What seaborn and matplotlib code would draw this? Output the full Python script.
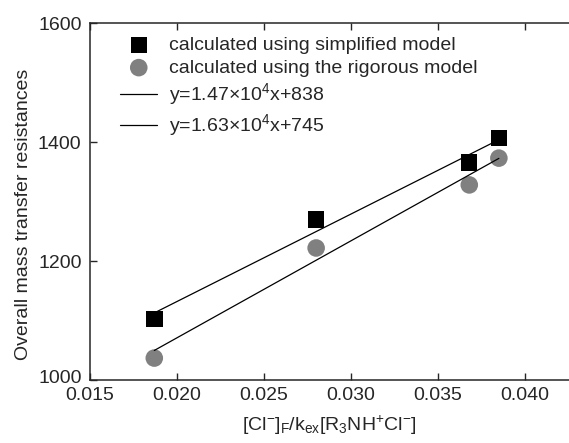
import numpy as np
import pandas as pd
import seaborn as sns
import matplotlib.pyplot as plt
import matplotlib.transforms as mtransforms

# data
x_vals = [0.0187, 0.0280, 0.0368, 0.0385]
simplified = [1103, 1270, 1366, 1407]
rigorous = [1037, 1222, 1328, 1373]

# fitted lines (slope, intercept)
fit_simplified = (1.47e4, 838)
fit_rigorous = (1.63e4, 745)

sns.set_style("ticks")
plt.rcParams['font.family'] = ['Liberation Sans', 'DejaVu Sans']
plt.rcParams['mathtext.fontset'] = 'custom'
plt.rcParams['mathtext.rm'] = 'Liberation Sans'
plt.rcParams['mathtext.it'] = 'Liberation Sans'

df = pd.DataFrame({'x': x_vals, 'simplified': simplified, 'rigorous': rigorous})
xs = np.array([x_vals[0], x_vals[-1]])
lines = pd.DataFrame({'x': xs,
                      'l1': fit_simplified[0] * xs + fit_simplified[1],
                      'l2': fit_rigorous[0] * xs + fit_rigorous[1]})

fig = plt.figure(figsize=(5.69, 4.43), dpi=100)
ax = fig.add_axes([0.158, 0.142, 0.842, 0.806])

sns.scatterplot(data=df, x='x', y='simplified', marker='s', s=140, color='black',
                edgecolor='none', label='calculated using simplified model', ax=ax, zorder=2)
sns.scatterplot(data=df, x='x', y='rigorous', marker='o', s=160, color='#808080',
                edgecolor='none', label='calculated using the rigorous model', ax=ax, zorder=2)
sns.lineplot(data=lines, x='x', y='l1', color='black', lw=0.9,
             label=r'y=1.47$\times$10$^4$x+838', ax=ax, zorder=3)
sns.lineplot(data=lines, x='x', y='l2', color='black', lw=0.9,
             label=r'y=1.63$\times$10$^4$x+745', ax=ax, zorder=3)

ax.set_xlim(0.015, 0.04253)
ax.set_ylim(1000, 1600)
ax.set_xticks([0.015, 0.020, 0.025, 0.030, 0.035, 0.040])
ax.set_yticks([1000, 1200, 1400, 1600])
ax.set_xticklabels(['0.015', '0.020', '0.025', '0.030', '0.035', '0.040'])
ax.tick_params(direction='in', length=5, width=1, labelsize=14, top=True)
ax.tick_params(axis='y', pad=6)
ax.tick_params(axis='x', pad=5)
for s in ['left', 'bottom', 'top']:
    ax.spines[s].set_linewidth(1.1)
ax.spines['right'].set_visible(False)

# nudge the bottom y label up a touch so it clears 0.015
lab = ax.get_yticklabels()[0]
lab.set_transform(lab.get_transform() + mtransforms.ScaledTranslation(0, 2.5 / 72, fig.dpi_scale_trans))

ax.set_xlabel(r'[Cl$^{-}$]$_{F}$/k$_{ex}$[R$_{3}$NH$^{+}$Cl$^{-}$]', fontsize=14, labelpad=7)
ax.set_ylabel('Overall mass transfer resistances', fontsize=14)
ax.yaxis.set_label_coords(-0.12, 0.465)

ax.legend(loc='upper left', bbox_to_anchor=(0.035, 1.0), frameon=False, fontsize=14,
          handlelength=1.9, handletextpad=0.6, labelspacing=0.25, borderaxespad=0.3)

fig.savefig('out.png', dpi=100)
